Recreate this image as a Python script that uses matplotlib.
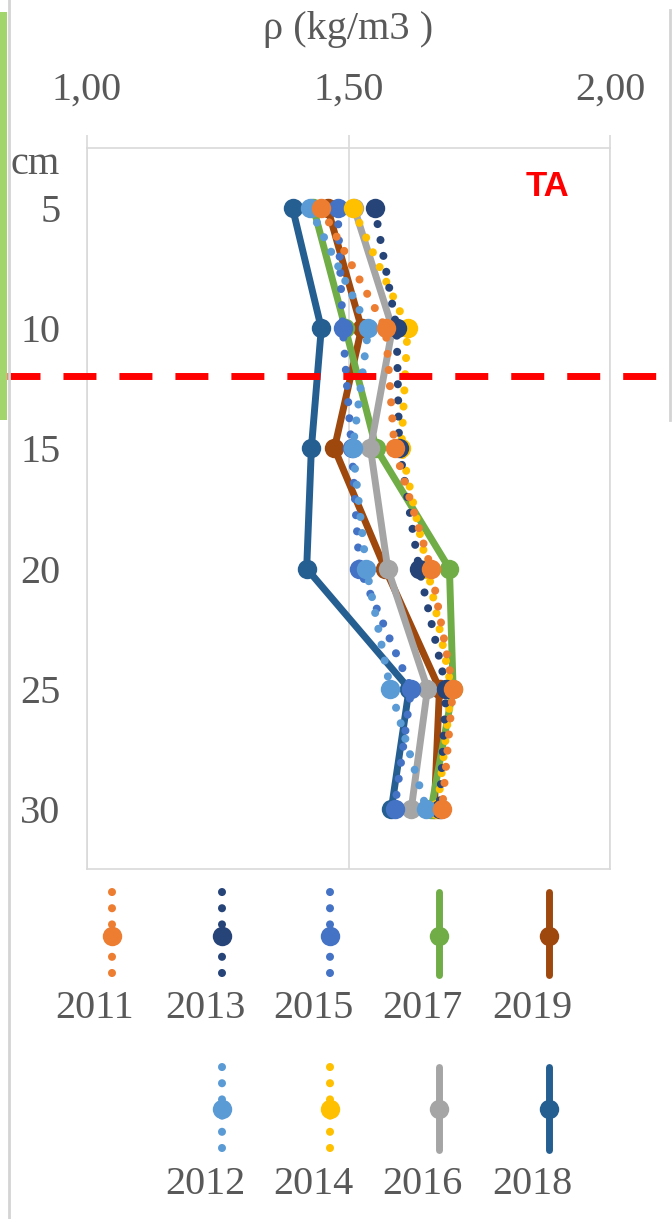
import matplotlib
matplotlib.use("Agg")
import matplotlib.pyplot as plt
from matplotlib.lines import Line2D
from matplotlib.patches import Rectangle
import matplotlib.transforms as mtransforms

# ---------------- data ----------------
depths = [5, 10, 15, 20, 25, 30]
years = ["2011", "2012", "2013", "2014", "2015", "2016", "2017", "2018", "2019"]
rho_2011 = [1.448, 1.571, 1.588, 1.658, 1.700, 1.679]
rho_2012 = [1.426, 1.538, 1.508, 1.534, 1.580, 1.649]
rho_2013 = [1.550, 1.592, 1.597, 1.635, 1.687, 1.674]
rho_2014 = [1.508, 1.613, 1.601, 1.651, 1.697, 1.670]
rho_2015 = [1.479, 1.489, 1.506, 1.521, 1.620, 1.588]
rho_2016 = [1.511, 1.584, 1.542, 1.575, 1.651, 1.620]
rho_2017 = [1.433, 1.494, 1.553, 1.693, 1.700, 1.658]
rho_2018 = [1.393, 1.448, 1.429, 1.420, 1.616, 1.582]
rho_2019 = [1.460, 1.525, 1.473, 1.570, 1.674, 1.664]
series = [rho_2011, rho_2012, rho_2013, rho_2014, rho_2015,
          rho_2016, rho_2017, rho_2018, rho_2019]
colors = ["#ED7D31", "#5B9BD5", "#264478", "#FFC000", "#4472C4",
          "#A5A5A5", "#70AD47", "#255E91", "#9E480E"]
dotted = [True, True, True, True, True, False, False, False, False]
x_ticks = [1.0, 1.5, 2.0]
x_ticklabels = ["1,00", "1,50", "2,00"]
y_ticks = [5, 10, 15, 20, 25, 30]
x_title = "ρ (kg/m3 )"
limit_depth = 12

TXT = "#595959"
GRID = "#D9D9D9"
SERIF = "Liberation Serif"
FS = 29

W, H = 672, 1219
fig = plt.figure(figsize=(W / 100, H / 100), dpi=100)
fig.patch.set_facecolor("white")

ax = fig.add_axes([87 / W, 1 - 869 / H, (610 - 87) / W, (869 - 148) / H])
ax.set_xlim(1, 2)
ax.set_ylim(32.5, 2.5)

DOT = (0, (0.01, 2.0))
n = len(series)
for i, (vals, col, dt) in enumerate(zip(series, colors, dotted)):
    z = 3 + (n - i)  # earlier years drawn on top
    if dt:
        ax.plot(vals, depths, color=col, lw=5.8, linestyle=DOT,
                dash_capstyle="round", marker="o", ms=14, mew=0,
                clip_on=False, zorder=z)
    else:
        ax.plot(vals, depths, color=col, lw=5.0, solid_capstyle="round",
                solid_joinstyle="round", marker="o", ms=14, mew=0,
                clip_on=False, zorder=z)

ax.xaxis.tick_top()
ax.set_xticks(x_ticks)
ax.set_xticklabels(x_ticklabels, fontfamily=SERIF)
ax.tick_params(axis="x", direction="out", length=9.4, width=1.2, color=GRID,
               pad=19, labelsize=FS, labelcolor=TXT)
ax.set_yticks(y_ticks)
ax.set_yticklabels([str(d) for d in y_ticks], fontfamily=SERIF)
ax.tick_params(axis="y", length=0, pad=19, labelsize=FS, labelcolor=TXT)
ax.grid(axis="x", color=GRID, lw=1.2)
ax.set_axisbelow(True)
for sp in ax.spines.values():
    sp.set_color(GRID)
    sp.set_linewidth(1.2)

blend_y = mtransforms.blended_transform_factory(ax.transAxes, ax.transData)
ax.text(-27 / 523, 3.2, "cm", transform=blend_y, ha="right", va="center",
        fontsize=FS, color=TXT, fontfamily=SERIF)

# red dashed limit line across the whole figure
blend_fig = mtransforms.blended_transform_factory(fig.transFigure, ax.transData)
red = Line2D([7 / W, 1.0], [limit_depth, limit_depth], transform=blend_fig,
             color="#FF0000", lw=5.0, linestyle=(0, (4.75, 3.31)),
             dash_capstyle="butt", clip_on=False, zorder=20)
ax.add_line(red)

fig.text(348 / W, 1 - 30 / H, x_title, ha="center", va="center",
         fontsize=FS, color=TXT, fontfamily=SERIF)
fig.text(548 / W, 1 - 186 / H, "TA", ha="center", va="center",
         fontsize=25, color="#FF0000", fontweight="bold",
         fontfamily="Liberation Sans")

# overlay for decorations and legend (pixel coordinates)
ov = fig.add_axes([0, 0, 1, 1])
ov.set_xlim(0, W)
ov.set_ylim(H, 0)
ov.axis("off")
ov.add_patch(Rectangle((0, 12), 7, 408, color="#A2D66C", lw=0))
ov.plot([8.5, 8.5], [0, H], color="#D4D4D4", lw=2)
ov.plot([669.5, 669.5], [10, 420], color="#D4D4D4", lw=2)

# legend layout (manual, two rows)
leg_pos = {
    "2011": (112, 0), "2013": (222, 0), "2015": (330, 0), "2017": (439, 0), "2019": (549, 0),
    "2012": (222, 1), "2014": (330, 1), "2016": (439, 1), "2018": (549, 1),
}
rows = [(892, 975, 936, 1009), (1067, 1150, 1109, 1185)]
for yr, col, dt in zip(years, colors, dotted):
    x, r = leg_pos[yr]
    y0, y1, ym, yl = rows[r]
    if dt:
        ov.plot([x, x], [y0, y1], color=col, lw=5.8, linestyle=DOT,
                dash_capstyle="round")
    else:
        ov.plot([x, x], [y0, y1], color=col, lw=5.0, solid_capstyle="round")
    ov.plot([x], [ym], marker="o", ms=14, mew=0, color=col)
    ov.text(x - 17, yl, yr, ha="center", va="center", fontsize=FS,
            color=TXT, fontfamily=SERIF)

fig.savefig("out.png", dpi=100)
